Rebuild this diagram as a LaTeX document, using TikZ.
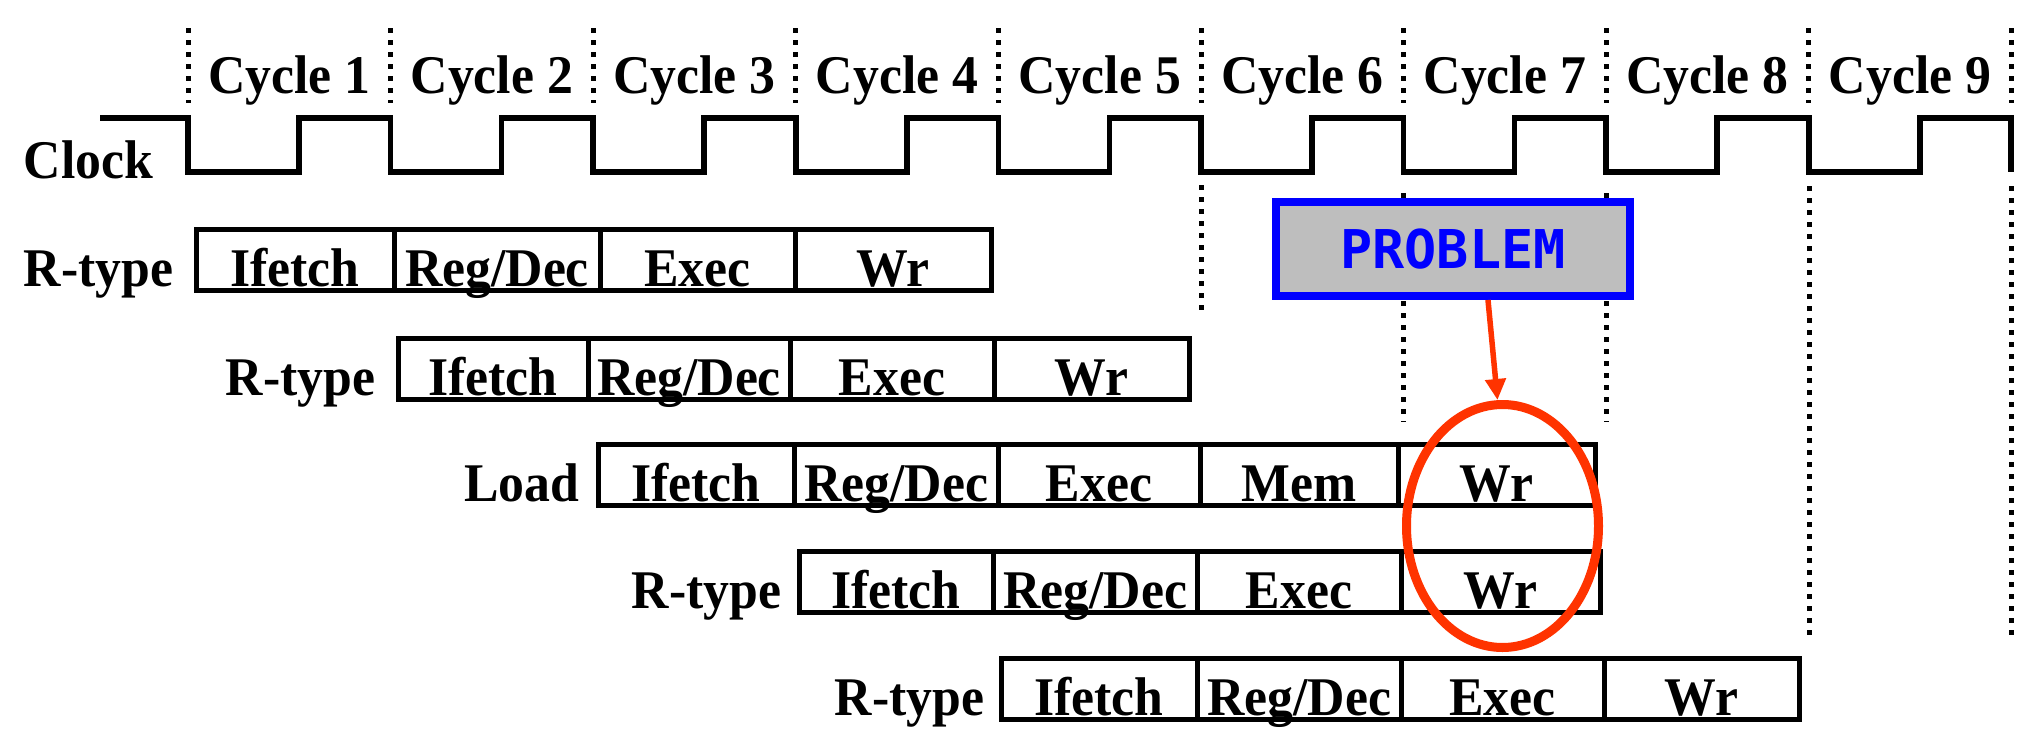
\documentclass[tikz,border=0pt]{standalone}
\usepackage{fontspec}
\setmainfont[FakeStretch=0.95]{Liberation Serif}
\newfontfamily\monofont{DejaVu Sans Mono}
\usetikzlibrary{positioning,arrows.meta,shapes.geometric}
\definecolor{alert}{RGB}{255,51,0}
\definecolor{probgray}{RGB}{190,190,190}

\tikzset{
  txt/.style={font=\fontsize{15.5}{18}\selectfont\bfseries, inner sep=0pt},
  stage/.style={txt, draw, line width=0.05cm, outer sep=0pt, text height=0.57cm, text depth=0.04cm, minimum width=#1},
  cyclemark/.style={line width=0.05cm, dash pattern=on 0.05cm off 0.07cm},
  wave/.style={line width=0.055cm, line join=miter},
  problem/.style={draw=blue, line width=0.08cm, fill=probgray, text=blue, inner sep=0pt,
    font=\monofont\bfseries\fontsize{15.2}{18}\selectfont, minimum width=3.54cm, minimum height=0.94cm},
}

\begin{document}
\begin{tikzpicture}
\useasboundingbox (0,0) rectangle (20.40,-7.53);

% cycle boundaries, labels and clock
\foreach \k in {0,...,9}
  \draw[cyclemark] ({1.88+2.026*\k},-0.28) -- ({1.88+2.026*\k},-1.03);
\foreach \c in {1,...,9}
  \node[txt, anchor=base] (cyc\c) at ({1.88+2.026*(\c-1)+1.013},-0.93) {Cycle \c};
\node[txt, anchor=base west] (clk) at (0.23,-1.78) {Clock};
\draw[wave] (1.00,-1.18) foreach \k in {0,...,8} {
    -- ({1.88+2.026*\k},-1.18) -- ({1.88+2.026*\k},-1.72)
    -- ({2.99+2.026*\k},-1.72) -- ({2.99+2.026*\k},-1.18) }
  -- (20.11,-1.18) -- (20.11,-1.72);

\draw[cyclemark] (12.01,-1.85) -- (12.01,-3.15);
\draw[cyclemark] (14.03,-1.93) -- (14.03,-4.22);
\draw[cyclemark] (16.06,-1.93) -- (16.06,-4.22);
\draw[cyclemark] (18.09,-1.86) -- (18.09,-6.38);
\draw[cyclemark] (20.11,-1.86) -- (20.11,-6.38);

% instructions
\node[stage=1.98cm, anchor=south west] (r1if) at (1.96,-2.90) {Ifetch};
\node[stage=2.06cm, right=0pt of r1if] (r1rd) {Reg/Dec};
\node[stage=1.95cm, right=0pt of r1rd] (r1ex) {Exec};
\node[stage=1.96cm, right=0pt of r1ex] (r1wr) {Wr};
\node[txt, base left=0.22cm of r1if] (ins1) {R-type};

\node[stage=1.90cm, anchor=south west] (r2if) at (3.98,-3.99) {Ifetch};
\node[stage=2.02cm, right=0pt of r2if] (r2rd) {Reg/Dec};
\node[stage=2.04cm, right=0pt of r2rd] (r2ex) {Exec};
\node[stage=1.95cm, right=0pt of r2ex] (r2wr) {Wr};
\node[txt, base left=0.22cm of r2if] (ins2) {R-type};

\node[stage=1.96cm, anchor=south west] (r3if) at (5.98,-5.05) {Ifetch};
\node[stage=2.04cm, right=0pt of r3if] (r3rd) {Reg/Dec};
\node[stage=2.02cm, right=0pt of r3rd] (r3ex) {Exec};
\node[stage=1.98cm, right=0pt of r3ex] (r3mem) {Mem};
\node[stage=1.97cm, right=0pt of r3mem] (r3wr) {Wr};
\node[txt, base left=0.18cm of r3if] (ins3) {Load};

\node[stage=1.94cm, anchor=south west] (r4if) at (7.99,-6.12) {Ifetch};
\node[stage=2.04cm, right=0pt of r4if] (r4rd) {Reg/Dec};
\node[stage=2.04cm, right=0pt of r4rd] (r4ex) {Exec};
\node[stage=1.99cm, right=0pt of r4ex] (r4wr) {Wr};
\node[txt, base left=0.17cm of r4if] (ins4) {R-type};

\node[stage=1.96cm, anchor=south west] (r5if) at (10.01,-7.19) {Ifetch};
\node[stage=2.04cm, right=0pt of r5if] (r5rd) {Reg/Dec};
\node[stage=2.03cm, right=0pt of r5rd] (r5ex) {Exec};
\node[stage=1.95cm, right=0pt of r5ex] (r5wr) {Wr};
\node[txt, base left=0.16cm of r5if] (ins5) {R-type};

% the conflict
\node[problem] (prob) at (14.53,-2.49) {PROBLEM};
\node[draw=alert, line width=0.09cm, ellipse, minimum width=1.92cm, minimum height=2.43cm] (clash) at (15.025,-5.26) {};
\draw[-{Triangle[length=0.21cm, width=0.2cm]}, alert, line width=0.055cm] ([xshift=0.35cm]prob.south) -- ([xshift=-0.05cm]clash.north);
\end{tikzpicture}
\end{document}
